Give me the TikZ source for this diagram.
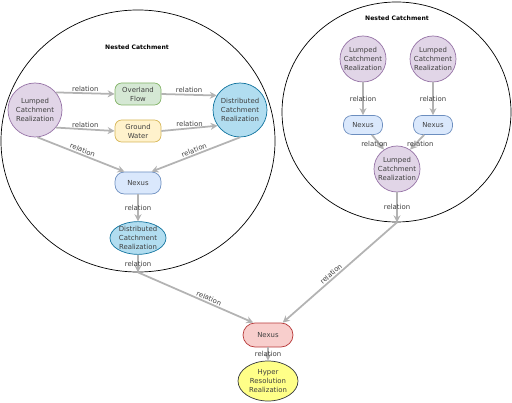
\documentclass[tikz,border=0pt]{standalone}
\usepackage{fontspec}
\setmainfont{DejaVu Sans}
\usetikzlibrary{arrows.meta,shapes.geometric,positioning,calc}
\definecolor{lumpfill}{HTML}{E1D5E7}
\definecolor{lumpdraw}{HTML}{9673A6}
\definecolor{flowfill}{HTML}{D5E8D4}
\definecolor{flowdraw}{HTML}{82B366}
\definecolor{gwfill}{HTML}{FFF2CC}
\definecolor{gwdraw}{HTML}{D6B656}
\definecolor{distfill}{HTML}{B1DDF0}
\definecolor{distdraw}{HTML}{10739E}
\definecolor{nexfill}{HTML}{DAE8FC}
\definecolor{nexdraw}{HTML}{6C8EBF}
\definecolor{outfill}{HTML}{F8CECC}
\definecolor{outdraw}{HTML}{B83A3A}
\definecolor{hyperfill}{HTML}{FFFF88}
\definecolor{hyperdraw}{HTML}{36393D}
\definecolor{relgray}{HTML}{B3B3B3}

\begin{document}
\begin{tikzpicture}[
    x=0.03cm, y=-0.03cm,
    every node/.style={font=\fontsize{5.9}{7.6}\selectfont, text=black!75},
    base/.style={draw, line width=0.6pt, inner sep=0pt, align=center},
    lumped/.style={base, circle, draw=lumpdraw, fill=lumpfill, minimum size=1.62cm},
    lumpedsmall/.style={lumped, minimum size=1.38cm},
    flow/.style={base, rectangle, rounded corners=0.2cm, minimum width=1.38cm, minimum height=0.66cm},
    nexus/.style={base, rectangle, rounded corners=0.28cm, draw=nexdraw, fill=nexfill, minimum width=1.38cm, minimum height=0.66cm},
    nexussmall/.style={nexus, rounded corners=0.25cm, minimum width=1.17cm, minimum height=0.57cm},
    catch/.style={draw=black, line width=0.6pt, ellipse, inner sep=0pt},
    title/.style={font=\bfseries\fontsize{5.2}{6}\selectfont, text=black},
    rel/.style={draw=relgray, line width=1.5pt, -{Stealth[length=6pt,width=6pt]}},
    lbl/.style={inner sep=1pt}
]
\useasboundingbox (0,0) rectangle (512,403);

% Nested catchments
\node[catch, minimum width=8.22cm, minimum height=7.86cm] (outerL) at (138,141) {};
\node[catch, minimum width=6.87cm, minimum height=6.6cm] (outerR) at (396.5,112) {};
\node[title] (titleL) at (137,47) {Nested Catchment};
\node[title] (titleR) at (397,18) {Nested Catchment};

% Left catchment
\node[lumped] (lumpL) at (35,110) {Lumped\\Catchment\\Realization};
\node[flow, draw=flowdraw, fill=flowfill] (overland) at (138,94) {Overland\\Flow};
\node[flow, draw=gwdraw, fill=gwfill] (ground) at (138,131) {Ground\\Water};
\node[lumped, draw=distdraw, fill=distfill] (distR) at (240,110) {Distributed\\Catchment\\Realization};
\node[nexus] (nexusL) at (138,183) {Nexus};
\node[base, ellipse, draw=distdraw, fill=distfill, minimum width=1.68cm, minimum height=0.96cm] (distL) at (138,238) {Distributed\\Catchment\\Realization};

% Right catchment
\node[lumpedsmall] (lumpA) at (363,59) {Lumped\\Catchment\\Realization};
\node[lumpedsmall] (lumpB) at (433,59) {Lumped\\Catchment\\Realization};
\node[nexussmall] (nexusA) at (363,125) {Nexus};
\node[nexussmall] (nexusB) at (433,125) {Nexus};
\node[lumpedsmall] (lumpC) at (397,169) {Lumped\\Catchment\\Realization};

% Outlet
\node[nexus, draw=outdraw, fill=outfill, rounded corners=0.36cm, minimum width=1.5cm, minimum height=0.72cm] (outlet) at (268,335) {Nexus};
\node[base, ellipse, draw=hyperdraw, fill=hyperfill, minimum width=1.8cm, minimum height=1.2cm] (hyper) at (268,381) {Hyper\\Resolution\\Realization};

\coordinate (exitL) at (distL |- outerL.south);
\coordinate (exitR) at (lumpC |- outerR.south);

% Relations, left catchment
\draw[rel] (lumpL.40) -- node[lbl, above] {relation} (overland.west);
\draw[rel] (lumpL.-40) -- node[lbl, above] {relation} (ground.west);
\draw[rel] (overland.east) -- node[lbl, above] {relation} (distR.148);
\draw[rel] (ground.east) -- node[lbl, above] {relation} (distR.-145);
\draw[rel] (lumpL.-85) -- node[lbl, above, sloped] {relation} (nexusL.140);
\draw[rel] (distR.south) -- node[lbl, above, sloped] {relation} (nexusL.40);
\draw[rel] (nexusL.south) -- node[lbl] {relation} (distL.north);
\draw[rel] (distL.south) -- node[lbl] {relation} (exitL);

% Relations, right catchment
\draw[rel] (lumpA.south) -- node[lbl] {relation} (nexusA.north);
\draw[rel] (lumpB.south) -- node[lbl] {relation} (nexusB.north);
\draw[rel] (nexusA.-48) -- node[lbl, pos=0.6, xshift=-4pt] {relation} (lumpC.124);
\draw[rel] (nexusB.-132) -- node[lbl, pos=0.6, xshift=4pt] {relation} (lumpC.56);
\draw[rel] (lumpC.south) -- node[lbl] {relation} (exitR);

% Relations to outlet
\draw[rel] (exitL) -- node[lbl, above, sloped, pos=0.6] {relation} (outlet.140);
\draw[rel] (exitR) -- node[lbl, above, sloped, pos=0.55] {relation} (outlet.40);
\draw[rel] (outlet.south) -- node[lbl] {relation} (hyper.north);

\end{tikzpicture}
\end{document}
